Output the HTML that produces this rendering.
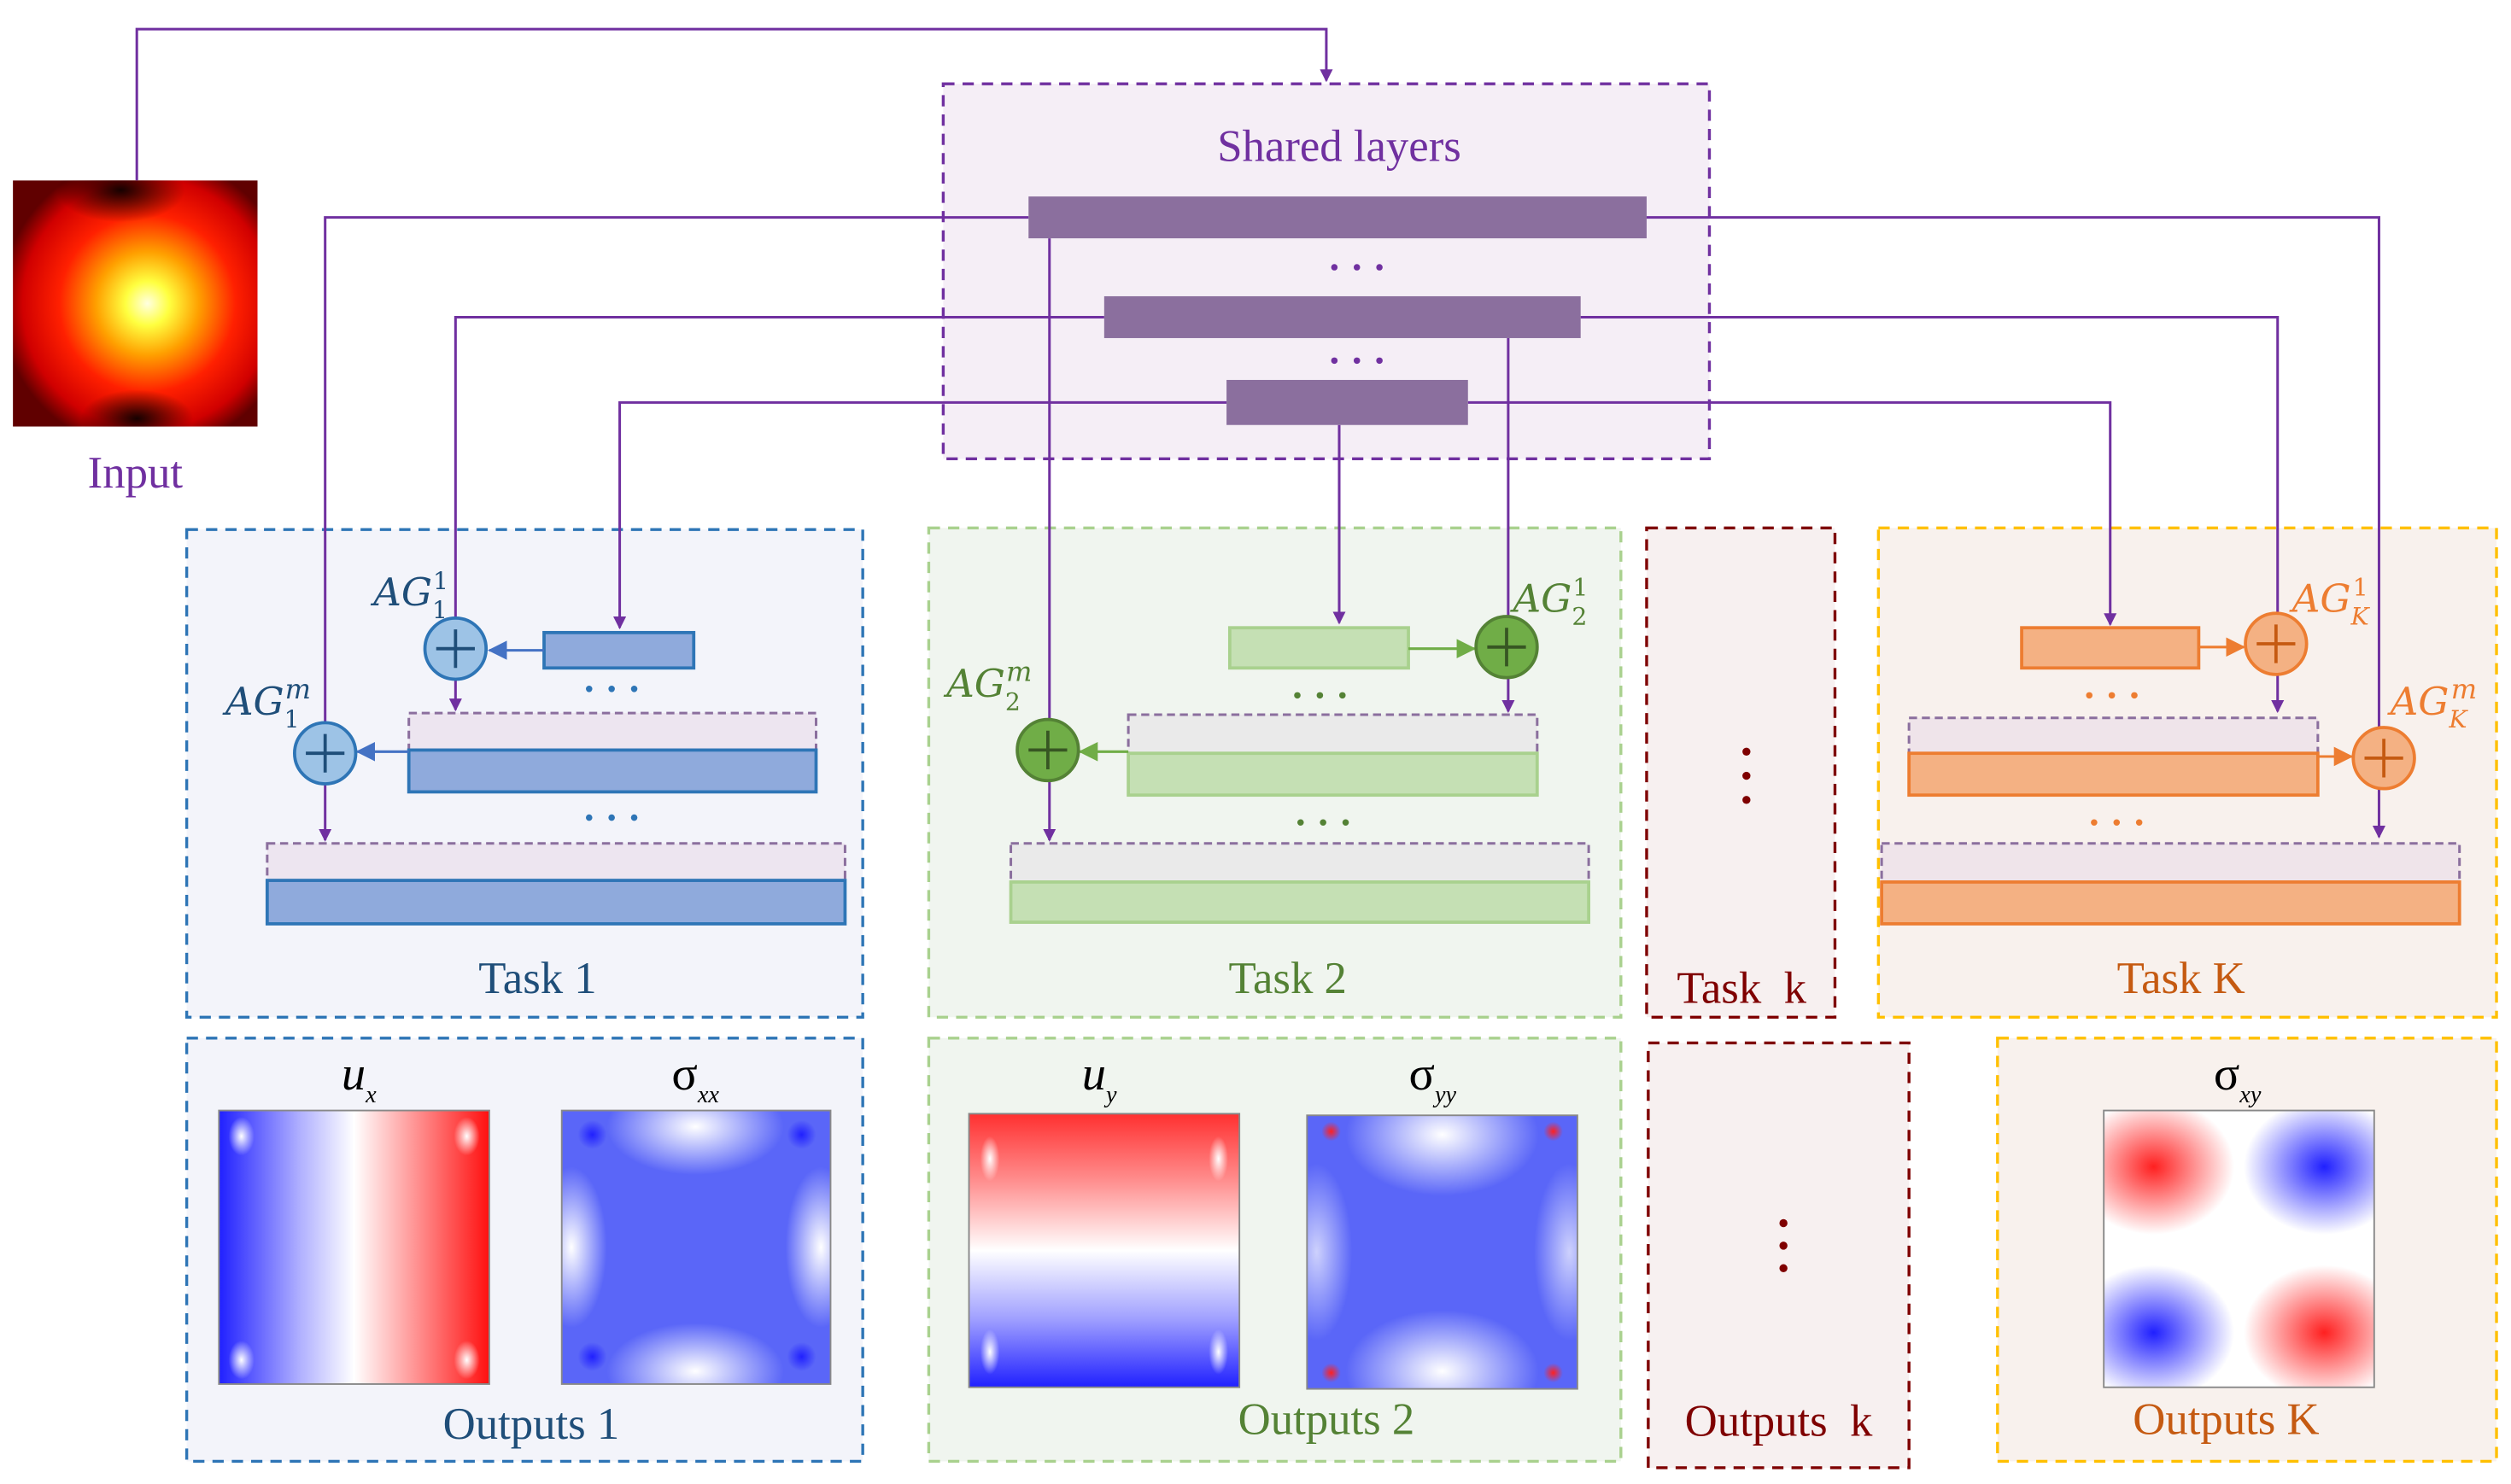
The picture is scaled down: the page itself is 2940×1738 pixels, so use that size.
<!DOCTYPE html>
<html><head><meta charset="utf-8"><style>html,body{margin:0;padding:0;background:#fff}svg{display:block}</style></head>
<body>
<svg width="2940" height="1738" viewBox="0 0 1560 922" xmlns="http://www.w3.org/2000/svg" font-family="Liberation Serif, serif">
<defs>
<marker id="ap" markerWidth="8" markerHeight="8" refX="7" refY="4" orient="auto" markerUnits="userSpaceOnUse" viewBox="0 0 8 8"><path d="M0,0 L8,4 L0,8 z" fill="#7030a0"/></marker>
<marker id="ab" markerWidth="12" markerHeight="12" refX="11" refY="6" orient="auto" markerUnits="userSpaceOnUse"><path d="M0,0 L12,6 L0,12 z" fill="#4472c4"/></marker>
<marker id="ag" markerWidth="12" markerHeight="12" refX="11" refY="6" orient="auto" markerUnits="userSpaceOnUse"><path d="M0,0 L12,6 L0,12 z" fill="#70ad47"/></marker>
<marker id="ao" markerWidth="12" markerHeight="12" refX="11" refY="6" orient="auto" markerUnits="userSpaceOnUse"><path d="M0,0 L12,6 L0,12 z" fill="#ed7d31"/></marker>
<clipPath id="c0"><rect x="8" y="112" width="152" height="153"/></clipPath>
<clipPath id="c1"><rect x="136" y="690" width="168" height="170"/></clipPath>
<clipPath id="c2"><rect x="349" y="690" width="167" height="170"/></clipPath>
<clipPath id="c3"><rect x="602" y="692" width="168" height="170"/></clipPath>
<clipPath id="c4"><rect x="812" y="693" width="168" height="170"/></clipPath>
<clipPath id="c5"><rect x="1307" y="690" width="168" height="172"/></clipPath>
<radialGradient id="inp" cx="0.55" cy="0.5" r="0.6">
<stop offset="0" stop-color="#ffffe0"/><stop offset="0.15" stop-color="#ffff40"/><stop offset="0.35" stop-color="#ffa000"/><stop offset="0.6" stop-color="#ff2000"/><stop offset="0.85" stop-color="#d00000"/><stop offset="1" stop-color="#600000"/></radialGradient>
<radialGradient id="dk" cx="0.5" cy="0.5" r="0.5"><stop offset="0" stop-color="#000" stop-opacity="0.9"/><stop offset="1" stop-color="#000" stop-opacity="0"/></radialGradient>
<linearGradient id="ux" x1="0" x2="1" y1="0" y2="0"><stop offset="0" stop-color="#2020ff"/><stop offset="0.3" stop-color="#b0b0ff"/><stop offset="0.5" stop-color="#fff"/><stop offset="0.7" stop-color="#ffa0a0"/><stop offset="1" stop-color="#ff1010"/></linearGradient>
<linearGradient id="uy" x1="0" x2="0" y1="0" y2="1"><stop offset="0" stop-color="#ff3030"/><stop offset="0.25" stop-color="#ff9090"/><stop offset="0.5" stop-color="#fff"/><stop offset="0.75" stop-color="#a0a0ff"/><stop offset="1" stop-color="#2020ff"/></linearGradient>
<radialGradient id="wb" cx="0.5" cy="0.5" r="0.5"><stop offset="0" stop-color="#fff" stop-opacity="1"/><stop offset="1" stop-color="#fff" stop-opacity="0"/></radialGradient>
<radialGradient id="rq" cx="0.5" cy="0.5" r="0.5"><stop offset="0" stop-color="#ff2020"/><stop offset="1" stop-color="#ff2020" stop-opacity="0"/></radialGradient>
<radialGradient id="bq" cx="0.5" cy="0.5" r="0.5"><stop offset="0" stop-color="#2020ff"/><stop offset="1" stop-color="#2020ff" stop-opacity="0"/></radialGradient>
</defs>

<!-- input image -->
<g clip-path="url(#c0)">
<rect x="8" y="112" width="152" height="153" fill="url(#inp)"/>
<ellipse cx="75" cy="118" rx="40" ry="20" fill="url(#dk)"/>
<ellipse cx="85" cy="260" rx="35" ry="18" fill="url(#dk)"/>
</g>
<text x="84" y="303" font-size="28" fill="#7030a0" text-anchor="middle">Input</text>

<!-- shared layers -->
<rect x="586" y="52" width="476" height="233" fill="#f5eef6" stroke="#7030a0" stroke-width="1.8" stroke-dasharray="7,5"/>
<text x="832" y="100" font-size="28" fill="#7030a0" text-anchor="middle">Shared layers</text>

<!-- Task boxes backgrounds -->
<rect x="116" y="329" width="420" height="303" fill="#f3f4fa" stroke="#2e75b6" stroke-width="1.8" stroke-dasharray="7,5"/>
<rect x="577" y="328" width="430" height="304" fill="#f0f5ef" stroke="#a9d18e" stroke-width="1.8" stroke-dasharray="7,5"/>
<rect x="1023" y="328" width="117" height="304" fill="#f7f0f0" stroke="#7f0000" stroke-width="1.8" stroke-dasharray="7,5"/>
<rect x="1167" y="328" width="384" height="304" fill="#f8f1ed" stroke="#ffc000" stroke-width="1.8" stroke-dasharray="7,5"/>

<!-- connectors -->
<g fill="none" stroke="#7030a0" stroke-width="1.6">
<polyline points="85,112 85,18 824,18 824,50" marker-end="url(#ap)"/>
<polyline points="639,135 202,135 202,449"/>
<polyline points="1023,135 1478,135 1478,520" marker-end="url(#ap)"/>
<polyline points="652,148 652,447"/>
<polyline points="686,197 283,197 283,384"/>
<polyline points="982,197 1415,197 1415,381"/>
<polyline points="937,210 937,383"/>
<polyline points="762,250 385,250 385,390" marker-end="url(#ap)"/>
<polyline points="912,250 1311,250 1311,388" marker-end="url(#ap)"/>
<polyline points="832,264 832,387" marker-end="url(#ap)"/>
<polyline points="283,422 283,441" marker-end="url(#ap)"/>
<polyline points="202,487 202,522" marker-end="url(#ap)"/>
<polyline points="937,421 937,442" marker-end="url(#ap)"/>
<polyline points="652,485 652,522" marker-end="url(#ap)"/>
<polyline points="1415,419 1415,442" marker-end="url(#ap)"/>
</g>

<rect x="639" y="122" width="384" height="26" fill="#8b6f9e"/>
<rect x="686" y="184" width="296" height="26" fill="#8b6f9e"/>
<rect x="762" y="236" width="150" height="28" fill="#8b6f9e"/>
<g fill="#7030a0"><circle cx="829" cy="166" r="2"/><circle cx="843" cy="166" r="2"/><circle cx="857" cy="166" r="2"/>
<circle cx="829" cy="224" r="2"/><circle cx="843" cy="224" r="2"/><circle cx="857" cy="224" r="2"/></g>

<!-- Task 1 -->
<rect x="338" y="393" width="93" height="22" fill="#8faadc" stroke="#2e75b6" stroke-width="2"/>
<line x1="338" y1="404" x2="304" y2="404" stroke="#4472c4" stroke-width="1.6" marker-end="url(#ab)"/>
<circle cx="283" cy="403" r="19" fill="#9dc3e6" stroke="#2e75b6" stroke-width="2"/>
<path d="M271,403 h24 M283,391 v24" stroke="#1f4e79" stroke-width="2"/>
<text x="232" y="376" font-size="24" font-style="italic" fill="#1f4e79" font-family="DejaVu Serif, serif">AG<tspan font-size="15" dy="8" font-style="normal">1</tspan><tspan font-size="15" dy="-18" dx="-9" font-style="normal">1</tspan></text>
<g fill="#2e75b6"><circle cx="366" cy="428" r="2"/><circle cx="380" cy="428" r="2"/><circle cx="394" cy="428" r="2"/>
<circle cx="366" cy="508" r="2"/><circle cx="380" cy="508" r="2"/><circle cx="394" cy="508" r="2"/></g>
<rect x="254" y="443" width="253" height="23" fill="#ede5f0" stroke="#8b6f9e" stroke-width="1.6" stroke-dasharray="5,3"/>
<rect x="254" y="466" width="253" height="26" fill="#8faadc" stroke="#2e75b6" stroke-width="2"/>
<line x1="254" y1="467" x2="222" y2="467" stroke="#4472c4" stroke-width="1.6" marker-end="url(#ab)"/>
<circle cx="202" cy="468" r="19" fill="#9dc3e6" stroke="#2e75b6" stroke-width="2"/>
<path d="M190,468 h24 M202,456 v24" stroke="#1f4e79" stroke-width="2"/>
<text x="140" y="444" font-size="24" font-style="italic" fill="#1f4e79" font-family="DejaVu Serif, serif">AG<tspan font-size="15" dy="8" font-style="normal">1</tspan><tspan font-size="17" dy="-18" dx="-9">m</tspan></text>
<rect x="166" y="524" width="359" height="23" fill="#ede5f0" stroke="#8b6f9e" stroke-width="1.6" stroke-dasharray="5,3"/>
<rect x="166" y="547" width="359" height="27" fill="#8faadc" stroke="#2e75b6" stroke-width="2"/>
<text x="334" y="617" font-size="28" fill="#1f4e79" text-anchor="middle">Task 1</text>

<!-- Task 2 -->
<rect x="764" y="390" width="111" height="25" fill="#c5e0b4" stroke="#a9d18e" stroke-width="2"/>
<line x1="875" y1="403" x2="916" y2="403" stroke="#70ad47" stroke-width="1.6" marker-end="url(#ag)"/>
<circle cx="936" cy="402" r="19" fill="#70ad47" stroke="#548235" stroke-width="2"/>
<path d="M924,402 h24 M936,390 v24" stroke="#375623" stroke-width="2"/>
<text x="940" y="380" font-size="24" font-style="italic" fill="#548235" font-family="DejaVu Serif, serif">AG<tspan font-size="15" dy="8" font-style="normal">2</tspan><tspan font-size="15" dy="-18" dx="-9" font-style="normal">1</tspan></text>
<g fill="#548235"><circle cx="806" cy="432" r="2"/><circle cx="820" cy="432" r="2"/><circle cx="834" cy="432" r="2"/>
<circle cx="808" cy="511" r="2"/><circle cx="822" cy="511" r="2"/><circle cx="836" cy="511" r="2"/></g>
<rect x="701" y="444" width="254" height="24" fill="#eaeaea" stroke="#8b6f9e" stroke-width="1.6" stroke-dasharray="5,3"/>
<rect x="701" y="468" width="254" height="26" fill="#c5e0b4" stroke="#a9d18e" stroke-width="2"/>
<line x1="701" y1="467" x2="671" y2="467" stroke="#70ad47" stroke-width="1.6" marker-end="url(#ag)"/>
<circle cx="651" cy="466" r="19" fill="#70ad47" stroke="#548235" stroke-width="2"/>
<path d="M639,466 h24 M651,454 v24" stroke="#375623" stroke-width="2"/>
<text x="588" y="433" font-size="24" font-style="italic" fill="#548235" font-family="DejaVu Serif, serif">AG<tspan font-size="15" dy="8" font-style="normal">2</tspan><tspan font-size="17" dy="-18" dx="-9">m</tspan></text>
<rect x="628" y="524" width="359" height="24" fill="#eaeaea" stroke="#8b6f9e" stroke-width="1.6" stroke-dasharray="5,3"/>
<rect x="628" y="548" width="359" height="25" fill="#c5e0b4" stroke="#a9d18e" stroke-width="2"/>
<text x="800" y="617" font-size="28" fill="#548235" text-anchor="middle">Task 2</text>

<!-- Task k -->
<circle cx="1085" cy="467" r="2.5" fill="#7f0000"/><circle cx="1085" cy="482" r="2.5" fill="#7f0000"/><circle cx="1085" cy="497" r="2.5" fill="#7f0000"/>
<text x="1082" y="623" font-size="28" fill="#7f0000" text-anchor="middle" xml:space="preserve">Task  k</text>

<!-- Task K -->
<rect x="1256" y="390" width="110" height="25" fill="#f4b183" stroke="#ed7d31" stroke-width="2"/>
<line x1="1366" y1="402" x2="1394" y2="402" stroke="#ed7d31" stroke-width="1.6" marker-end="url(#ao)"/>
<circle cx="1414" cy="400" r="19" fill="#f4b183" stroke="#ed7d31" stroke-width="2"/>
<path d="M1402,400 h24 M1414,388 v24" stroke="#c55a11" stroke-width="2"/>
<text x="1424" y="380" font-size="24" font-style="italic" fill="#ed7d31" font-family="DejaVu Serif, serif">AG<tspan font-size="15" dy="8">K</tspan><tspan font-size="15" dy="-18" dx="-10" font-style="normal">1</tspan></text>
<g fill="#ed7d31"><circle cx="1298" cy="432" r="2"/><circle cx="1312" cy="432" r="2"/><circle cx="1326" cy="432" r="2"/>
<circle cx="1301" cy="511" r="2"/><circle cx="1315" cy="511" r="2"/><circle cx="1329" cy="511" r="2"/></g>
<rect x="1186" y="446" width="254" height="22" fill="#efe4ea" stroke="#8b6f9e" stroke-width="1.6" stroke-dasharray="5,3"/>
<rect x="1186" y="468" width="254" height="26" fill="#f4b183" stroke="#ed7d31" stroke-width="2"/>
<line x1="1440" y1="470" x2="1461" y2="470" stroke="#ed7d31" stroke-width="1.6" marker-end="url(#ao)"/>
<circle cx="1481" cy="471" r="19" fill="#f4b183" stroke="#ed7d31" stroke-width="2"/>
<path d="M1469,471 h24 M1481,459 v24" stroke="#c55a11" stroke-width="2"/>
<text x="1485" y="444" font-size="24" font-style="italic" fill="#ed7d31" font-family="DejaVu Serif, serif">AG<tspan font-size="15" dy="8">K</tspan><tspan font-size="17" dy="-18" dx="-10">m</tspan></text>
<rect x="1169" y="524" width="359" height="24" fill="#efe4ea" stroke="#8b6f9e" stroke-width="1.6" stroke-dasharray="5,3"/>
<rect x="1169" y="548" width="359" height="26" fill="#f4b183" stroke="#ed7d31" stroke-width="2"/>
<text x="1355" y="617" font-size="28" fill="#c55a11" text-anchor="middle">Task K</text>

<!-- Outputs 1 -->
<rect x="116" y="645" width="420" height="263" fill="#f3f4fa" stroke="#2e75b6" stroke-width="1.8" stroke-dasharray="7,5"/>
<text x="223" y="677" font-size="30" font-style="italic" text-anchor="middle">u<tspan font-size="15" dy="8">x</tspan></text>
<text x="432" y="677" font-size="30" text-anchor="middle">σ<tspan font-size="15" dy="8" font-style="italic">xx</tspan></text>
<g clip-path="url(#c1)">
<rect x="136" y="690" width="168" height="170" fill="url(#ux)"/>
<ellipse cx="150" cy="706" rx="8" ry="12" fill="url(#wb)"/><ellipse cx="290" cy="706" rx="8" ry="12" fill="url(#wb)"/>
<ellipse cx="150" cy="845" rx="8" ry="12" fill="url(#wb)"/><ellipse cx="290" cy="845" rx="8" ry="12" fill="url(#wb)"/>
</g>
<rect x="136" y="690" width="168" height="170" fill="none" stroke="#888" stroke-width="1"/>
<g clip-path="url(#c2)">
<rect x="349" y="690" width="167" height="170" fill="#5a66f8"/>
<ellipse cx="432" cy="700" rx="55" ry="30" fill="url(#wb)"/><ellipse cx="432" cy="852" rx="55" ry="30" fill="url(#wb)"/>
<ellipse cx="355" cy="775" rx="22" ry="50" fill="url(#wb)"/><ellipse cx="510" cy="775" rx="22" ry="50" fill="url(#wb)"/>
<circle cx="368" cy="705" r="9" fill="url(#bq)"/><circle cx="498" cy="705" r="9" fill="url(#bq)"/><circle cx="368" cy="843" r="9" fill="url(#bq)"/><circle cx="498" cy="843" r="9" fill="url(#bq)"/>
</g>
<rect x="349" y="690" width="167" height="170" fill="none" stroke="#888" stroke-width="1"/>
<text x="330" y="894" font-size="28" fill="#1f4e79" text-anchor="middle">Outputs 1</text>

<!-- Outputs 2 -->
<rect x="577" y="645" width="430" height="263" fill="#f0f5ef" stroke="#a9d18e" stroke-width="1.8" stroke-dasharray="7,5"/>
<text x="683" y="677" font-size="30" font-style="italic" text-anchor="middle">u<tspan font-size="15" dy="8">y</tspan></text>
<text x="890" y="677" font-size="30" text-anchor="middle">σ<tspan font-size="15" dy="8" font-style="italic">yy</tspan></text>
<g clip-path="url(#c3)">
<rect x="602" y="692" width="168" height="170" fill="url(#uy)"/>
<ellipse cx="615" cy="720" rx="6" ry="14" fill="url(#wb)"/><ellipse cx="757" cy="720" rx="6" ry="14" fill="url(#wb)"/>
<ellipse cx="615" cy="840" rx="6" ry="14" fill="url(#wb)"/><ellipse cx="757" cy="840" rx="6" ry="14" fill="url(#wb)"/>
</g>
<rect x="602" y="692" width="168" height="170" fill="none" stroke="#888" stroke-width="1"/>
<g clip-path="url(#c4)">
<rect x="812" y="693" width="168" height="170" fill="#5a66f8"/>
<ellipse cx="896" cy="705" rx="60" ry="38" fill="url(#wb)"/><ellipse cx="896" cy="852" rx="60" ry="38" fill="url(#wb)"/>
<ellipse cx="818" cy="778" rx="22" ry="55" fill="url(#wb)" opacity="0.7"/><ellipse cx="975" cy="778" rx="22" ry="55" fill="url(#wb)" opacity="0.7"/>
<circle cx="827" cy="703" r="6" fill="url(#rq)"/><circle cx="965" cy="703" r="6" fill="url(#rq)"/><circle cx="827" cy="853" r="6" fill="url(#rq)"/><circle cx="965" cy="853" r="6" fill="url(#rq)"/>
</g>
<rect x="812" y="693" width="168" height="170" fill="none" stroke="#888" stroke-width="1"/>
<text x="824" y="891" font-size="28" fill="#548235" text-anchor="middle">Outputs 2</text>

<!-- Outputs k -->
<rect x="1024" y="648" width="162" height="264" fill="#f7f0f0" stroke="#7f0000" stroke-width="1.8" stroke-dasharray="7,5"/>
<circle cx="1108" cy="760" r="2.5" fill="#7f0000"/><circle cx="1108" cy="774" r="2.5" fill="#7f0000"/><circle cx="1108" cy="788" r="2.5" fill="#7f0000"/>
<text x="1105" y="892" font-size="28" fill="#7f0000" text-anchor="middle" xml:space="preserve">Outputs  k</text>

<!-- Outputs K -->
<rect x="1241" y="645" width="310" height="263" fill="#f8f1ed" stroke="#ffc000" stroke-width="1.8" stroke-dasharray="7,5"/>
<text x="1390" y="677" font-size="30" text-anchor="middle">σ<tspan font-size="15" dy="8" font-style="italic">xy</tspan></text>
<g clip-path="url(#c5)">
<rect x="1307" y="690" width="168" height="172" fill="#fff"/>
<ellipse cx="1338" cy="725" rx="50" ry="42" fill="url(#rq)"/>
<ellipse cx="1444" cy="725" rx="50" ry="42" fill="url(#bq)"/>
<ellipse cx="1338" cy="828" rx="50" ry="42" fill="url(#bq)"/>
<ellipse cx="1444" cy="828" rx="50" ry="42" fill="url(#rq)"/>
</g>
<rect x="1307" y="690" width="168" height="172" fill="none" stroke="#888" stroke-width="1"/>
<text x="1383" y="891" font-size="28" fill="#c55a11" text-anchor="middle">Outputs K</text>
</svg>
</body></html>
